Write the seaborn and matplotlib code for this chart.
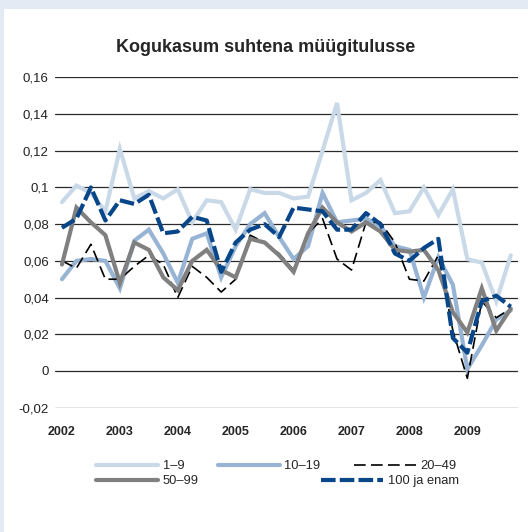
import numpy as np
import pandas as pd
import matplotlib
matplotlib.use("Agg")
import matplotlib.pyplot as plt
import seaborn as sns
from matplotlib.lines import Line2D
from matplotlib.patches import Rectangle
from matplotlib.ticker import FuncFormatter, MultipleLocator

# Quarterly data 2002 Q1 - 2009 Q4
years = ["2002", "2003", "2004", "2005", "2006", "2007", "2008", "2009"]
quarters = list(range(32))

s_1_9 = [0.092, 0.101, 0.097, 0.087, 0.121, 0.094, 0.098, 0.094,
         0.099, 0.081, 0.093, 0.092, 0.077, 0.099, 0.097, 0.097,
         0.094, 0.095, 0.120, 0.146, 0.093, 0.097, 0.104, 0.086,
         0.087, 0.100, 0.085, 0.099, 0.061, 0.059, 0.038, 0.063]
s_10_19 = [0.050, 0.060, 0.061, 0.060, 0.045, 0.071, 0.077, 0.064,
           0.048, 0.072, 0.075, 0.051, 0.068, 0.080, 0.086, 0.073,
           0.061, 0.068, 0.097, 0.081, 0.082, 0.083, 0.079, 0.068,
           0.066, 0.040, 0.062, 0.047, 0.001, 0.014, 0.028, 0.033]
s_20_49 = [0.060, 0.056, 0.069, 0.050, 0.050, 0.057, 0.063, 0.058,
           0.040, 0.057, 0.051, 0.043, 0.050, 0.074, 0.070, 0.064,
           0.055, 0.075, 0.083, 0.061, 0.055, 0.081, 0.081, 0.070,
           0.050, 0.049, 0.063, 0.022, -0.004, 0.038, 0.029, 0.034]
s_50_99 = [0.058, 0.089, 0.081, 0.074, 0.048, 0.070, 0.066, 0.051,
           0.044, 0.060, 0.066, 0.055, 0.051, 0.072, 0.070, 0.063,
           0.054, 0.075, 0.089, 0.081, 0.076, 0.081, 0.076, 0.066,
           0.065, 0.066, 0.055, 0.032, 0.021, 0.045, 0.022, 0.034]
s_100 = [0.078, 0.083, 0.100, 0.082, 0.093, 0.091, 0.096, 0.075,
         0.076, 0.084, 0.082, 0.054, 0.070, 0.077, 0.080, 0.073,
         0.089, 0.088, 0.087, 0.077, 0.077, 0.086, 0.080, 0.064,
         0.060, 0.067, 0.072, 0.018, 0.010, 0.038, 0.041, 0.035]

labels = ["1–9", "10–19", "20–49", "50–99", "100 ja enam"]

sns.set_style("white")
plt.rcParams["font.family"] = ["Liberation Sans", "DejaVu Sans"]

fig = plt.figure(figsize=(5.28, 5.32), dpi=100)
fig.patch.set_facecolor("#e3eaf3")
# white panel
fig.patches.append(Rectangle((4 / 528, 0), 1, 1 - 9 / 532, transform=fig.transFigure,
                             facecolor="white", edgecolor="none", zorder=-5))

ax = fig.add_axes([55 / 528, 1 - 407.7 / 532, (518 - 55) / 528, (407.7 - 77.3) / 532])
ax.set_facecolor("none")

styles = [
    (s_1_9, "#c9d9e8", 3.0, None),
    (s_10_19, "#98b4d4", 3.0, None),
    (s_20_49, "#000000", 1.2, (7, 3.2)),
    (s_50_99, "#808080", 3.0, None),
    (s_100, "#08468a", 3.0, (3.5, 1.0)),
]

handles = []
for (vals, col, lw, dash), lab in zip(styles, labels):
    df = pd.DataFrame({"q": quarters, "v": vals})
    sns.lineplot(data=df, x="q", y="v", ax=ax, color=col, lw=lw, legend=False)
    line = ax.lines[-1]
    line.set_solid_joinstyle("miter")
    if dash:
        line.set_dashes(dash)
    h = Line2D([], [], color=col, lw=lw)
    if dash:
        h.set_dashes(dash)
    handles.append(h)

ax.set_xlim(-0.48, 31.5)
ax.set_ylim(-0.02, 0.16)
ax.yaxis.set_major_locator(MultipleLocator(0.02))
ax.yaxis.set_major_formatter(FuncFormatter(lambda v, p: f"{v:.2f}".rstrip("0").rstrip(".").replace(".", ",") if abs(v) > 1e-9 else "0"))
ax.set_xticks(range(0, 32, 4))
ax.set_xticklabels(years, fontweight="bold", fontsize=9)
ax.tick_params(axis="y", length=0, pad=4.5, labelsize=9.5, colors="#222222")
ax.tick_params(axis="x", length=0, pad=13.5)
ax.grid(axis="y", color="#2a2a2a", lw=0.9)
ax.set_axisbelow(True)
for sp in ax.spines.values():
    sp.set_visible(False)
ax.set_xlabel("")
ax.set_ylabel("")

fig.text(266 / 528, 1 - 47 / 532, "Kogukasum suhtena müügitulusse",
         ha="center", va="center", fontsize=13, fontweight="bold")

common = dict(frameon=False, fontsize=9.3, handlelength=4.8, handletextpad=0.35,
              borderpad=0, borderaxespad=0, loc="center left")
fig.legend(handles[:3], labels[:3], ncol=3, columnspacing=2.6,
           bbox_to_anchor=(96 / 528, 1 - 466 / 532), **common)
fig.legend([handles[3], handles[4]], [labels[3], labels[4]], ncol=2, columnspacing=9.5,
           bbox_to_anchor=(96 / 528, 1 - 481 / 532), **common)

fig.savefig("out.png", dpi=100)
